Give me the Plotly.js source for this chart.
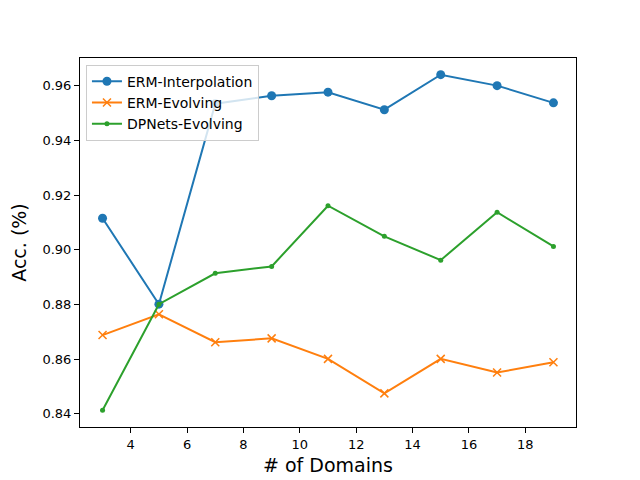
<!DOCTYPE html>
<html>
<head>
<meta charset="utf-8">
<script src="https://cdn.plot.ly/plotly-3.0.1.min.js"></script>
<style>body{margin:0;padding:0;background:#fff}#chart{width:640px;height:480px}</style>
</head>
<body>
<div id="chart"></div>
<script>
const domains = [3, 5, 7, 9, 11, 13, 15, 17, 19];
const ermInterpolation = [0.9115, 0.8801, 0.9534, 0.9563, 0.9576, 0.9512, 0.9640, 0.9600, 0.9537];
const ermEvolving = [0.8688, 0.8764, 0.8662, 0.8676, 0.8601, 0.8475, 0.8601, 0.8551, 0.8589];
const dpnetsEvolving = [0.8413, 0.8801, 0.8914, 0.8939, 0.9161, 0.9049, 0.8962, 0.9137, 0.9012];
const yTicks = [0.84, 0.86, 0.88, 0.90, 0.92, 0.94, 0.96];
const yTickLabels = ["0.84", "0.86", "0.88", "0.90", "0.92", "0.94", "0.96"];
const xTicks = [4, 6, 8, 10, 12, 14, 16, 18];

const traces = [
  {x: domains, y: ermInterpolation, name: 'ERM-Interpolation', type: 'scatter', mode: 'lines+markers',
   line: {color: '#1f77b4', width: 2}, marker: {symbol: 'circle', size: 9, color: '#1f77b4'}},
  {x: domains, y: ermEvolving, name: 'ERM-Evolving', type: 'scatter', mode: 'lines+markers',
   line: {color: '#ff7f0e', width: 2}, marker: {symbol: 'x-thin', size: 8, color: '#ff7f0e', line: {color: '#ff7f0e', width: 1.5}}},
  {x: domains, y: dpnetsEvolving, name: 'DPNets-Evolving', type: 'scatter', mode: 'lines+markers',
   line: {color: '#2ca02c', width: 2}, marker: {symbol: 'circle', size: 5, color: '#2ca02c'}}
];

const layout = {
  width: 640, height: 480,
  paper_bgcolor: '#fff', plot_bgcolor: '#fff',
  margin: {l: 80, r: 64, t: 58, b: 53},
  font: {family: 'DejaVu Sans', size: 13, color: '#000'},
  showlegend: true,
  legend: {x: 0.012, y: 0.982, xanchor: 'left', yanchor: 'top', bgcolor: 'rgba(255,255,255,0.8)',
           bordercolor: '#cccccc', borderwidth: 1, font: {family: 'DejaVu Sans', size: 14}, tracegroupgap: 0},
  xaxis: {range: [2.2, 19.8], tickvals: xTicks, ticks: 'outside', ticklen: 5, tickwidth: 1, tickcolor: '#000',
          showline: true, linecolor: '#000', linewidth: 1, mirror: true, showgrid: false, zeroline: false,
          tickfont: {family: 'DejaVu Sans', size: 13},
          title: {text: '# of Domains', font: {family: 'DejaVu Sans', size: 19}, standoff: 8}},
  yaxis: {range: [0.8352, 0.9701], tickvals: yTicks, ticktext: yTickLabels, ticks: 'outside', ticklen: 5, tickwidth: 1, tickcolor: '#000',
          showline: true, linecolor: '#000', linewidth: 1, mirror: true, showgrid: false, zeroline: false,
          tickfont: {family: 'DejaVu Sans', size: 13},
          title: {text: 'Acc. (%)', font: {family: 'DejaVu Sans', size: 19}, standoff: 10}}
};

Plotly.newPlot('chart', traces, layout, {displayModeBar: false, staticPlot: true});
</script>
</body>
</html>
